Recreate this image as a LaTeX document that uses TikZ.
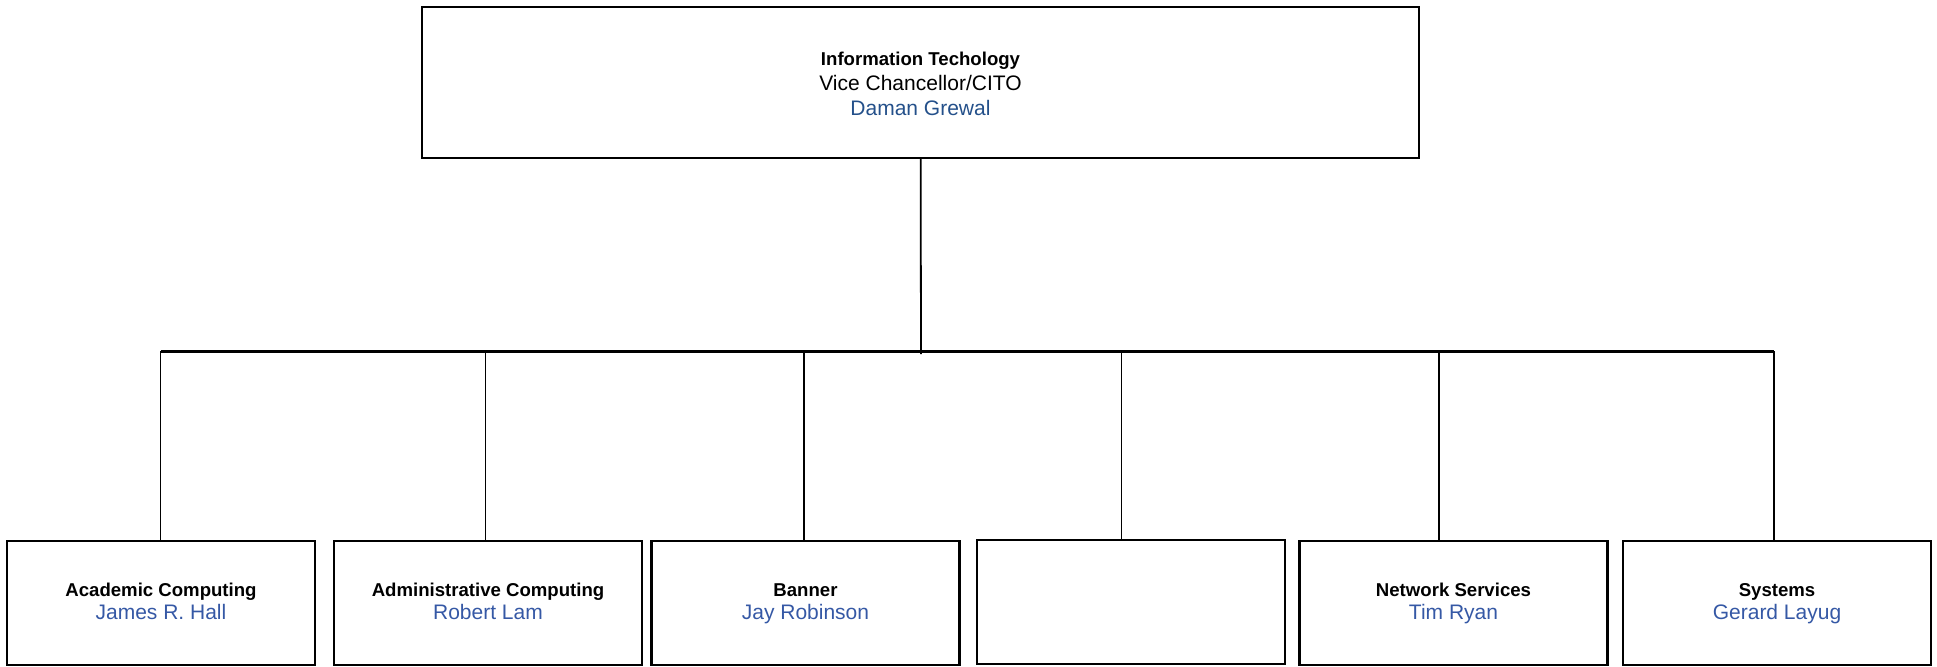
\documentclass[tikz,border=0pt]{standalone}
\usepackage{fontspec}
\setmainfont{Liberation Sans}
\usepackage{xcolor}
\usepackage{tikz}
\usetikzlibrary{positioning}
\definecolor{ChiefBlue}{HTML}{24508A}
\definecolor{StaffBlue}{HTML}{3558A5}
\definecolor{Ink}{HTML}{000000}
\newcommand{\unittitle}[1]{{\fontsize{9.3}{11.5}\selectfont\bfseries #1\strut}}
\newcommand{\staff}[1]{\textcolor{StaffBlue}{#1\strut}}

\begin{document}
\begin{tikzpicture}[x=0.5pt,y=-0.5pt,
  chief/.style={draw=Ink,line width=1.1pt,minimum width=498.5pt,minimum height=75.5pt,inner sep=0pt,align=center,font=\fontsize{10.5}{12.3}\selectfont},
  unit/.style={draw=Ink,line width=1.1pt,minimum width=154pt,minimum height=62pt,inner sep=0pt,align=center,font=\fontsize{10.5}{11.5}\selectfont},
  bus/.style={line width=1.5pt,draw=Ink},
  drop/.style={line width=0.9pt,draw=Ink}
]
\useasboundingbox (0,0) rectangle (1937,666);
\node[chief] (cito) at (920.5,82.5) {\unittitle{Information Techology}\\Vice Chancellor/CITO\\\textcolor{ChiefBlue}{Daman Grewal}};

\node[unit] (academic) at (161,603) {\unittitle{Academic Computing}\\\staff{James R. Hall}};
\node[unit] (admin) at (488,603) {\unittitle{Administrative Computing}\\\staff{Robert Lam}};
\node[unit] (banner) at (805.5,603) {\unittitle{Banner}\\\staff{Jay Robinson}};
\node[unit] (vacant) at (1131,602) {};
\node[unit] (network) at (1453.5,603) {\unittitle{Network Services}\\\staff{Tim Ryan}};
\node[unit] (systems) at (1777,603) {\unittitle{Systems}\\\staff{Gerard Layug}};

% bus line and drops
\coordinate (hub) at (921,354);
\coordinate (b1) at (160.5,351);
\coordinate (b2) at (485.5,351);
\coordinate (b3) at (804,351);
\coordinate (b4) at (1121.5,351);
\coordinate (b5) at (1439,351);
\coordinate (b6) at (1774,351);

\draw[drop] (cito) -- (hub);
\draw[bus] (b1) -- (b6);
\draw[drop] (b1) -- (b1 |- academic.north);
\draw[drop] (b2) -- (b2 |- admin.north);
\draw[drop] (b3) -- (b3 |- banner.north);
\draw[drop] (b4) -- (b4 |- vacant.north);
\draw[drop] (b5) -- (b5 |- network.north);
\draw[drop] (b6) -- (b6 |- systems.north);
\end{tikzpicture}
\end{document}
